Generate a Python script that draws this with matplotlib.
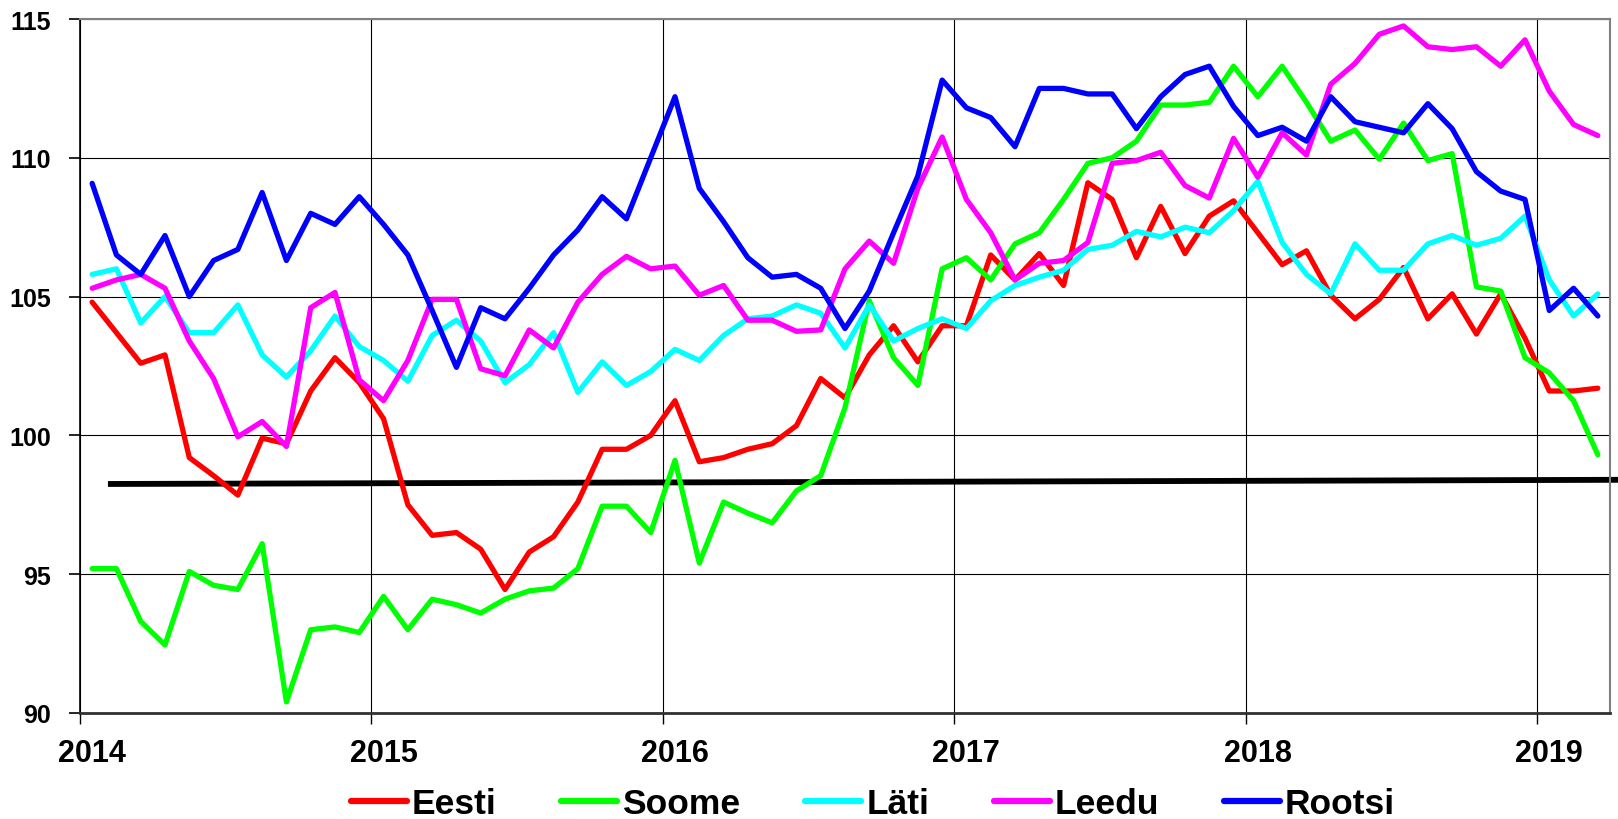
import matplotlib
matplotlib.use("Agg")
import matplotlib.pyplot as plt
import numpy as np
from matplotlib.ticker import FixedLocator, NullFormatter

plt.rcParams['font.family'] = ['Liberation Sans', 'DejaVu Sans']
plt.rcParams['font.weight'] = 'bold'

# Monthly data Jan 2014 .. Mar 2019 (63 months)
years = ['2014', '2015', '2016', '2017', '2018', '2019']

eesti = [104.8, 103.7, 102.6, 102.9, 99.2, 98.55, 97.85, 99.9, 99.7, 101.6, 102.8, 101.9,
         100.6, 97.5, 96.4, 96.5, 95.9, 94.45, 95.8, 96.35, 97.6, 99.5, 99.5, 100.0,
         101.25, 99.05, 99.2, 99.5, 99.7, 100.35, 102.05, 101.35, 102.9, 103.95, 102.65, 103.95,
         103.95, 106.5, 105.6, 106.55, 105.4, 109.1, 108.5, 106.4, 108.25, 106.55, 107.9, 108.45,
         107.3, 106.15, 106.65, 105.05, 104.2, 104.9, 106.05, 104.2, 105.1, 103.65, 105.1, 103.5,
         101.6, 101.6, 101.7]

soome = [95.2, 95.2, 93.3, 92.45, 95.1, 94.6, 94.45, 96.1, 90.4, 93.0, 93.1, 92.9,
         94.2, 93.0, 94.1, 93.9, 93.6, 94.1, 94.4, 94.5, 95.2, 97.45, 97.45, 96.5,
         99.1, 95.4, 97.6, 97.2, 96.85, 98.0, 98.55, 101.0, 104.85, 102.8, 101.8, 106.0,
         106.4, 105.6, 106.9, 107.3, 108.5, 109.8, 110.0, 110.6, 111.9, 111.9, 112.0, 113.3,
         112.2, 113.3, 112.0, 110.6, 111.0, 109.95, 111.25, 109.9, 110.15, 105.35, 105.2, 102.8,
         102.25, 101.25, 99.3]

lati = [105.8, 106.0, 104.05, 105.0, 103.7, 103.7, 104.7, 102.9, 102.1, 103.05, 104.3, 103.2,
        102.7, 101.95, 103.6, 104.15, 103.4, 101.9, 102.55, 103.7, 101.55, 102.65, 101.8, 102.3,
        103.1, 102.7, 103.6, 104.2, 104.3, 104.7, 104.4, 103.15, 104.7, 103.4, 103.85, 104.2,
        103.85, 104.85, 105.4, 105.7, 105.95, 106.7, 106.85, 107.35, 107.15, 107.5, 107.3, 108.1,
        109.15, 106.95, 105.8, 105.1, 106.9, 105.95, 105.95, 106.9, 107.2, 106.85, 107.1, 107.9,
        105.6, 104.3, 105.1]

leedu = [105.3, 105.6, 105.8, 105.3, 103.4, 102.05, 99.95, 100.5, 99.6, 104.6, 105.15, 102.0,
         101.25, 102.7, 104.9, 104.9, 102.4, 102.15, 103.8, 103.15, 104.8, 105.8, 106.45, 106.0,
         106.1, 105.05, 105.4, 104.15, 104.15, 103.75, 103.8, 106.0, 107.0, 106.2, 108.9, 110.75,
         108.5, 107.3, 105.6, 106.2, 106.3, 106.95, 109.8, 109.9, 110.2, 109.0, 108.55, 110.7,
         109.3, 110.9, 110.1, 112.65, 113.4, 114.45, 114.75, 114.0, 113.9, 114.0, 113.3, 114.25,
         112.4, 111.2, 110.8]

rootsi = [109.08, 106.5, 105.8, 107.2, 105.0, 106.3, 106.7, 108.75, 106.3, 108.0, 107.6, 108.6,
          107.6, 106.5, 104.5, 102.45, 104.6, 104.2, 105.3, 106.5, 107.4, 108.6, 107.8, 110.0,
          112.2, 108.9, 107.7, 106.4, 105.7, 105.8, 105.3, 103.85, 105.2, 107.3, 109.35, 112.8,
          111.8, 111.45, 110.4, 112.5, 112.5, 112.3, 112.3, 111.05, 112.2, 113.0, 113.3, 111.85,
          110.8, 111.1, 110.6, 112.2, 111.3, 111.1, 110.9, 111.95, 111.05, 109.5, 108.8, 108.5,
          104.5, 105.3, 104.3]

series_names = ['Eesti', 'Soome', 'Läti', 'Leedu', 'Rootsi']
series_colors = ['#FF0000', '#00FF00', '#00FFFF', '#FF00FF', '#0000FF']

# black reference (trend) line: start / end level
trend_values = [98.25, 98.4]

fig = plt.figure(figsize=(16.18, 8.2), dpi=100)
ax = fig.add_axes([80/1618, 1-714/820, 1530/1618, 694/820])

n = len(eesti)
x = np.arange(n)
for name, vals, col in zip(series_names, [eesti, soome, lati, leedu, rootsi], series_colors):
    ax.plot(x, vals, color=col, lw=3.8, label=name, solid_joinstyle='round',
            solid_capstyle='round', zorder=3)

ax.plot([0.65, n - 0.16], trend_values, color='black', lw=4.2, clip_on=False,
        solid_capstyle='butt', zorder=2)

ax.set_xlim(-0.5, n - 0.5)
ax.set_ylim(90, 115)

# y axis
ax.set_yticks(np.arange(90, 116, 5))
ax.tick_params(axis='y', which='major', length=8, width=1.2, direction='out',
               labelsize=18, pad=13)
# x axis: boundaries as major ticks, labels at January positions
ax.xaxis.set_major_locator(FixedLocator(np.arange(-0.5, n, 12)))
ax.xaxis.set_major_formatter(NullFormatter())
ax.xaxis.set_minor_locator(FixedLocator(np.arange(0, n, 12)))
ax.set_xticklabels(years, minor=True)
ax.tick_params(axis='x', which='major', length=8, width=1.0, direction='out')
ax.tick_params(axis='x', which='minor', length=0, labelsize=22, pad=18)
for lbl in ax.get_xticklabels(minor=True) + ax.get_yticklabels():
    lbl.set_fontweight('bold')

ax.grid(True, which='major', axis='both', color='black', lw=0.8, zorder=1)
ax.set_axisbelow(True)

for side in ['top', 'right']:
    ax.spines[side].set_color('#808080')
    ax.spines[side].set_linewidth(1.5)
ax.spines['left'].set_color('black')
ax.spines['left'].set_linewidth(1.2)
ax.spines['bottom'].set_color('#303030')
ax.spines['bottom'].set_linewidth(2.0)

leg = fig.legend(loc='center', bbox_to_anchor=(873/1618, 1-805/820), ncol=5,
                 frameon=False, prop={'family': 'Liberation Sans', 'weight': 'bold', 'size': 25.5},
                 handlelength=1.58, handletextpad=0.14, columnspacing=1.83,
                 borderaxespad=0, borderpad=0)
for h in leg.get_lines():
    h.set_linewidth(4.5)
    h.set_solid_capstyle('round')

fig.savefig('out.png', dpi=100)
